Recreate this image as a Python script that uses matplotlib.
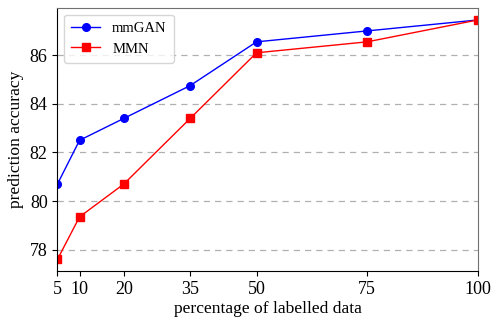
import matplotlib
matplotlib.use("Agg")
import matplotlib.pyplot as plt

pct = [5, 10, 20, 35, 50, 75, 100]
mmgan = [80.7, 82.5, 83.4, 84.75, 86.55, 87.0, 87.45]
mmn = [77.6, 79.35, 80.7, 83.4, 86.1, 86.55, 87.45]

plt.rcParams["font.family"] = ["Liberation Serif", "DejaVu Serif"]

fig, ax = plt.subplots(figsize=(4.91, 3.2), dpi=100)
ax.plot(pct, mmgan, "-o", color="blue", lw=1, ms=5.5, label="mmGAN")
ax.plot(pct, mmn, "-s", color="red", lw=1, ms=5.5, label="MMN")

ax.set_xlim(5, 100)
ax.set_xticks(pct)
ax.set_yticks([78, 80, 82, 84, 86])
ax.tick_params(labelsize=13, length=3.5)
ax.grid(axis="y", ls=(0, (5, 4)), color="#b0b0b0", lw=0.9)
ax.set_xlabel("percentage of labelled data", fontsize=12.6, labelpad=2)
ax.set_ylabel("prediction accuracy", fontsize=12.6)
for s in ("top", "right"):
    ax.spines[s].set_color("#707070")
ax.legend(loc="upper left", fontsize=10.5, handlelength=2.0,
          borderpad=0.5, borderaxespad=0.45)

plt.subplots_adjust(left=0.117, right=0.973, top=0.975, bottom=0.152)
plt.savefig("out.png", dpi=100)
